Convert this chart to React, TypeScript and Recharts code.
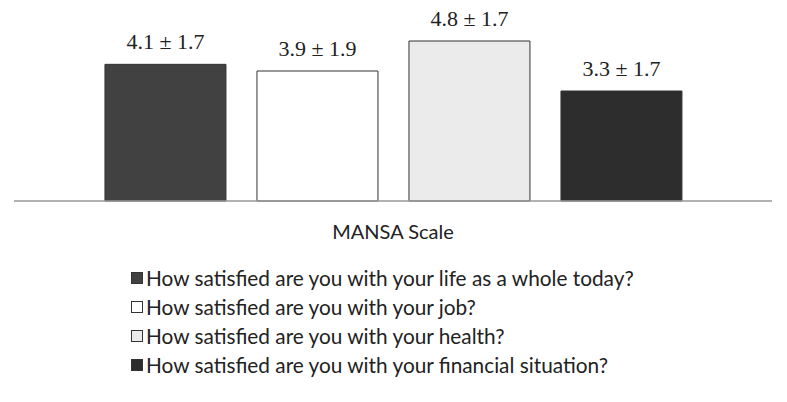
import { BarChart, Bar, XAxis, YAxis } from 'recharts'

const categories = ['MANSA Scale']
const questions = [
  'How satisfied are you with your life as a whole today?',
  'How satisfied are you with your job?',
  'How satisfied are you with your health?',
  'How satisfied are you with your financial situation?',
]
const keys = ['life', 'job', 'health', 'financial']
const means = [4.1, 3.9, 4.8, 3.3]
const sds = [1.7, 1.9, 1.7, 1.7]
const fills = ['#414141', '#ffffff', '#ebebeb', '#2d2d2d']

const data = categories.map((name) => {
  const row: Record<string, string | number> = { name }
  keys.forEach((k, i) => {
    row[k] = means[i]
  })
  return row
})

export default function App() {
  return (
    <div style={{ position: 'absolute', left: 0, top: 0, width: 787, height: 402, background: '#fff' }}>
      <BarChart
        width={787}
        height={402}
        data={data}
        margin={{ top: 1, right: 15, bottom: 141, left: 14 }}
        barCategoryGap="12%"
        barGap={31}
      >
        <XAxis
          dataKey="name"
          tickLine={false}
          axisLine={{ stroke: '#999', strokeWidth: 1.5 }}
          height={60}
          tickMargin={18}
          tick={{ fontFamily: 'Lato, sans-serif', fontSize: 20, fill: '#222' }}
        />
        <YAxis hide domain={[0, 6]} />
        {keys.map((k, i) => (
          <Bar
            key={k}
            dataKey={k}
            fill={fills[i]}
            stroke="#333"
            strokeWidth={1}
            isAnimationActive={false}
            label={{
              position: 'top',
              offset: 15,
              fontFamily: '"Liberation Serif", serif',
              fontSize: 22,
              fill: '#222',
              formatter: (v: number) => `${v} ± ${sds[i]}`,
            }}
          />
        ))}
      </BarChart>
      <div style={{ position: 'absolute', left: 131, top: 263, fontFamily: 'Lato, sans-serif', fontSize: 20.8, color: '#222' }}>
        {questions.map((q, i) => (
          <div key={q} style={{ display: 'flex', alignItems: 'center', height: 29 }}>
            <span
              style={{
                display: 'inline-block',
                width: 10,
                height: 10,
                background: fills[i],
                border: '1px solid #333',
                marginRight: 3,
              }}
            />
            <span>{q}</span>
          </div>
        ))}
      </div>
    </div>
  )
}
